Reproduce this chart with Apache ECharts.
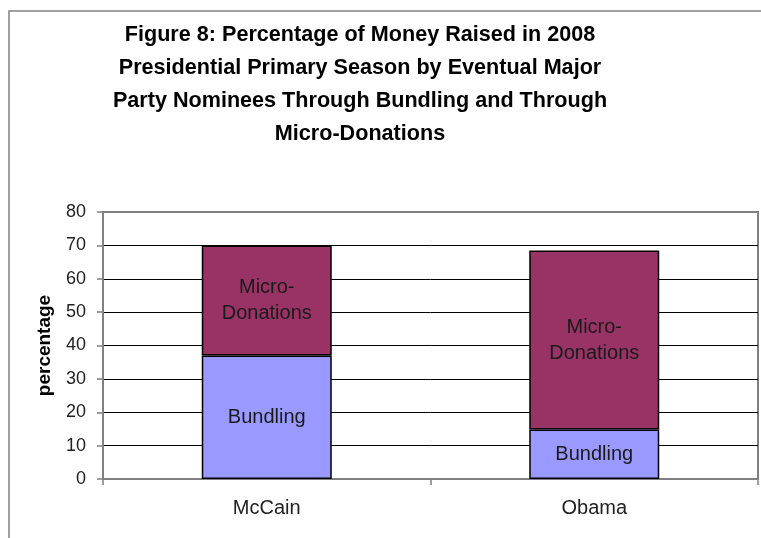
<!DOCTYPE html>
<html>
<head>
<meta charset="utf-8">
<script src="https://cdn.jsdelivr.net/npm/echarts@6/dist/echarts.min.js"></script>
<style>
  html, body { margin: 0; padding: 0; background: #fff; }
  #chart { width: 761px; height: 538px; }
</style>
</head>
<body>
<div id="chart"></div>
<script>
// Share of primary-season money raised by each eventual nominee
const candidates = ['McCain', 'Obama'];
const bundling = [37, 14.8];
const microDonations = [33, 53.7];
const seriesNames = ['Bundling', 'Micro-Donations'];
const titleLines = [
  'Figure 8: Percentage of Money Raised in 2008',
  'Presidential Primary Season by Eventual Major',
  'Party Nominees Through Bundling and Through',
  'Micro-Donations'
];
const yAxisTitle = 'percentage';

const FONT = '"Liberation Sans", Arial, sans-serif';
const GREY = '#808080';

const chart = echarts.init(document.getElementById('chart'), null, { renderer: 'canvas' });

const barLabel = (text) => ({
  show: true,
  position: 'inside',
  formatter: text,
  fontFamily: FONT,
  fontSize: 20,
  lineHeight: 26,
  color: '#1a1a1a'
});

// gridlines are black; the outermost ones sit on the grey plot frame
const gridLineColors = [GREY, '#000', '#000', '#000', '#000', '#000', '#000', '#000', GREY];

chart.setOption({
  animation: false,
  backgroundColor: '#ffffff',
  graphic: [
    {
      type: 'rect',
      z: -10,
      shape: { x: 9, y: 11, width: 800, height: 600 },
      style: { fill: 'none', stroke: GREY, lineWidth: 1.5 }
    },
    {
      type: 'text',
      x: 360,
      y: 19,
      style: {
        text: titleLines.join('\n'),
        font: 'bold 21.6px ' + FONT,
        lineHeight: 33,
        textAlign: 'center',
        textVerticalAlign: 'top',
        fill: '#000'
      }
    }
  ],
  grid: {
    left: 103,
    right: 3,
    top: 212,
    bottom: 59,
    show: true,
    borderColor: GREY,
    borderWidth: 2,
    backgroundColor: 'transparent'
  },
  xAxis: {
    type: 'category',
    data: candidates,
    axisLine: { lineStyle: { color: GREY, width: 2 } },
    axisTick: { show: true, length: 6, lineStyle: { color: GREY, width: 1.5 } },
    axisLabel: { fontFamily: FONT, fontSize: 20, color: '#222', margin: 19 }
  },
  yAxis: {
    type: 'value',
    min: 0,
    max: 80,
    interval: 10,
    name: yAxisTitle,
    nameLocation: 'middle',
    nameRotate: 90,
    nameGap: 49,
    nameTextStyle: { fontFamily: FONT, fontSize: 19, fontWeight: 'bold', color: '#000' },
    axisLine: { show: true, lineStyle: { color: GREY, width: 2 } },
    axisTick: { show: true, length: 6, lineStyle: { color: GREY, width: 1.5 } },
    axisLabel: { fontFamily: FONT, fontSize: 18, color: '#222', margin: 17 },
    splitLine: { show: true, lineStyle: { color: gridLineColors, width: 1 } }
  },
  series: [
    {
      name: seriesNames[0],
      type: 'bar',
      stack: 'total',
      data: bundling,
      barWidth: 130,
      itemStyle: { color: '#9999ff', borderColor: '#000', borderWidth: 1.5 },
      label: barLabel('Bundling')
    },
    {
      name: seriesNames[1],
      type: 'bar',
      stack: 'total',
      data: microDonations,
      barWidth: 130,
      itemStyle: { color: '#993366', borderColor: '#000', borderWidth: 1.5 },
      label: barLabel('Micro-\nDonations')
    }
  ]
});
</script>
</body>
</html>
